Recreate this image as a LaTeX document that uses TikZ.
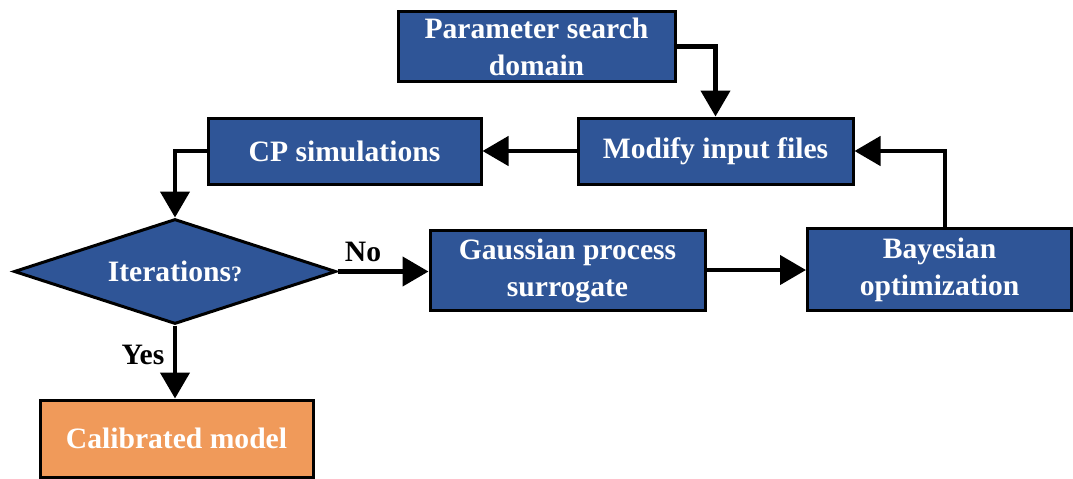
\documentclass[tikz,border=0pt]{standalone}
\usepackage{fontspec}
\setmainfont{Liberation Serif}
\usetikzlibrary{arrows.meta,shapes.geometric}
\definecolor{boxblue}{HTML}{2F5597}
\definecolor{boxorange}{HTML}{F09A5A}
\tikzset{
  block/.style={draw=black, line width=1.5pt, fill=boxblue, text=white,
    font=\fontsize{14.8}{18.5}\selectfont\bfseries, align=center, inner sep=0pt},
  decision/.style={block, shape=diamond, aspect=3.07},
  lbl/.style={font=\fontsize{14.8}{18.5}\selectfont\bfseries, inner sep=0pt},
  arr/.style={-{Triangle[length=13pt,width=14.5pt]}, line width=2.2pt},
}
\begin{document}
\begin{tikzpicture}[x=0.5pt,y=-0.5pt]
\useasboundingbox (0,0) rectangle (1073,478);
% blocks
\node[block, minimum width=138.5pt, minimum height=35pt] (psd) at (536.5,46.5) {Parameter search\\domain};
\node[block, minimum width=137.5pt, minimum height=33pt] (mod) at (715.5,151) {Modify input files};
\node[block, minimum width=136.5pt, minimum height=33pt] (cps) at (344.5,151) {CP simulations};
\node[decision, minimum width=161pt, minimum height=52.5pt] (iter) at (175,271.5) {Iterations{\fontsize{11}{13}\selectfont ?}};
\node[block, minimum width=137.5pt, minimum height=40pt, text depth=2pt] (gps) at (567.5,270) {Gaussian process\\surrogate};
\node[block, minimum width=132pt, minimum height=41pt, text depth=2pt] (bay) at (939.5,269) {Bayesian\\optimization};
\node[block, fill=boxorange, minimum width=136.5pt, minimum height=38.5pt] (cal) at (176.5,438.5) {Calibrated model};
% labels
\node[lbl] (no) at (363,252) {No};
\node[lbl] (yes) at (143,355) {Yes};
% arrows
\draw[arr] (psd.east) -| (mod.north);
\draw[arr] (mod.west) -- (cps.east);
\draw[arr] (cps.west) -| (iter.north);
\draw[arr] (iter.east) -- (iter.east -| gps.west);
\draw[arr] (gps.east) -- (gps.east -| bay.west);
\draw[arr] ([xshift=2.75pt]bay.north) |- (mod.east);
\draw[arr] (iter.south) -- (iter.south |- cal.north);
\end{tikzpicture}
\end{document}
